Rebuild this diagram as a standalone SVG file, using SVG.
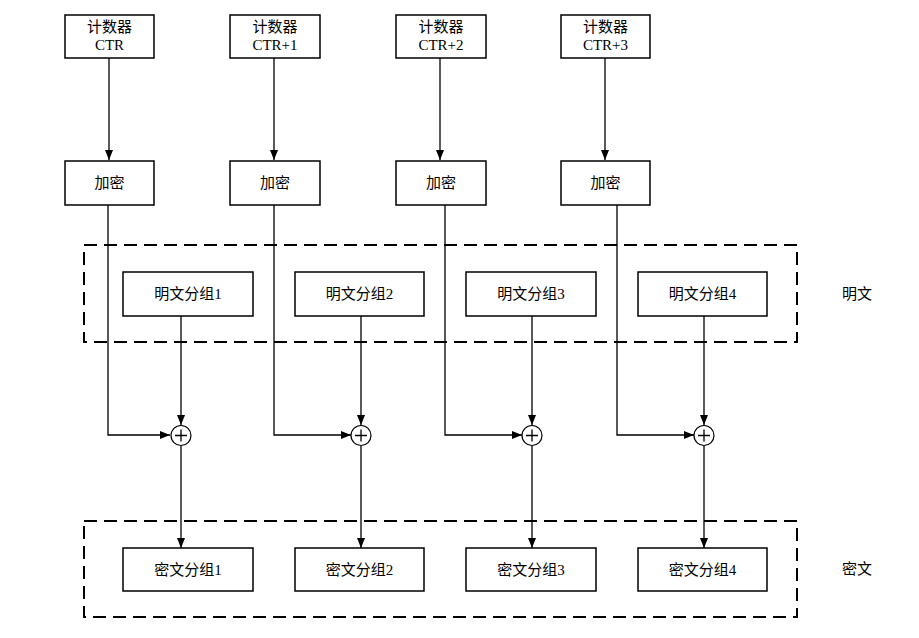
<svg xmlns="http://www.w3.org/2000/svg" width="919" height="638" viewBox="0 0 919 638">
<style>
.box{fill:#fff;stroke:#000;stroke-width:1.5}
.dash{fill:none;stroke:#000;stroke-width:2;stroke-dasharray:13 7}
.ln{fill:none;stroke:#000;stroke-width:1.3}
text{font-family:"Liberation Serif","Noto Sans CJK SC",serif;font-size:15px;fill:#000;text-anchor:middle;dominant-baseline:central}
.xor{fill:#fff;stroke:#000;stroke-width:1.2}
</style>
<defs>
<marker id="ah" markerWidth="10" markerHeight="8" refX="10" refY="4" orient="auto" markerUnits="userSpaceOnUse">
<path d="M0,0 L10,4 L0,8 Z" fill="#000"/>
</marker>
</defs>
<rect width="919" height="638" fill="#fff"/>
<g id="groups">
<rect class="dash" x="84" y="245" width="713" height="97"/>
<rect class="dash" x="84" y="521" width="713" height="96"/>
</g>
<g id="connectors">
<line class="ln" x1="109" y1="58" x2="109" y2="160" marker-end="url(#ah)"/>
<line class="ln" x1="274" y1="58" x2="274" y2="160" marker-end="url(#ah)"/>
<line class="ln" x1="440" y1="58" x2="440" y2="160" marker-end="url(#ah)"/>
<line class="ln" x1="605" y1="58" x2="605" y2="160" marker-end="url(#ah)"/>
<polyline class="ln" points="108,205 108,435 170,435" marker-end="url(#ah)"/>
<polyline class="ln" points="274,205 274,435 351,435" marker-end="url(#ah)"/>
<polyline class="ln" points="445,205 445,435 522,435" marker-end="url(#ah)"/>
<polyline class="ln" points="617,205 617,435 694,435" marker-end="url(#ah)"/>
<line class="ln" x1="181" y1="316" x2="181" y2="425" marker-end="url(#ah)"/>
<line class="ln" x1="361" y1="316" x2="361" y2="425" marker-end="url(#ah)"/>
<line class="ln" x1="532" y1="316" x2="532" y2="425" marker-end="url(#ah)"/>
<line class="ln" x1="704" y1="316" x2="704" y2="425" marker-end="url(#ah)"/>
<line class="ln" x1="181" y1="446" x2="181" y2="548" marker-end="url(#ah)"/>
<line class="ln" x1="361" y1="446" x2="361" y2="548" marker-end="url(#ah)"/>
<line class="ln" x1="532" y1="446" x2="532" y2="548" marker-end="url(#ah)"/>
<line class="ln" x1="704" y1="446" x2="704" y2="548" marker-end="url(#ah)"/>
</g>
<g id="ctr1"><rect class="box" x="65" y="15" width="89" height="43"/><text x="109.5" y="27">计数器</text><text x="109.5" y="45">CTR</text></g>
<g id="ctr2"><rect class="box" x="230" y="15" width="90" height="43"/><text x="275" y="27">计数器</text><text x="275" y="45">CTR+1</text></g>
<g id="ctr3"><rect class="box" x="396" y="15" width="90" height="43"/><text x="441" y="27">计数器</text><text x="441" y="45">CTR+2</text></g>
<g id="ctr4"><rect class="box" x="561" y="15" width="89" height="43"/><text x="605.5" y="27">计数器</text><text x="605.5" y="45">CTR+3</text></g>
<g id="enc1"><rect class="box" x="65" y="161" width="89" height="44"/><text x="109.5" y="183">加密</text></g>
<g id="enc2"><rect class="box" x="230" y="161" width="90" height="44"/><text x="275" y="183">加密</text></g>
<g id="enc3"><rect class="box" x="396" y="161" width="90" height="44"/><text x="441" y="183">加密</text></g>
<g id="enc4"><rect class="box" x="561" y="161" width="89" height="44"/><text x="605.5" y="183">加密</text></g>
<g id="p1"><rect class="box" x="123" y="272" width="130" height="44"/><text x="188" y="294">明文分组1</text></g>
<g id="p2"><rect class="box" x="295" y="272" width="129" height="44"/><text x="359.5" y="294">明文分组2</text></g>
<g id="p3"><rect class="box" x="466" y="272" width="130" height="44"/><text x="531" y="294">明文分组3</text></g>
<g id="p4"><rect class="box" x="638" y="272" width="129" height="44"/><text x="702.5" y="294">明文分组4</text></g>
<g id="x1"><circle class="xor" cx="181" cy="435.5" r="10"/><path class="ln" d="M175,435.5h12M181,429.5v12"/></g>
<g id="x2"><circle class="xor" cx="361" cy="435.5" r="10"/><path class="ln" d="M355,435.5h12M361,429.5v12"/></g>
<g id="x3"><circle class="xor" cx="532" cy="435.5" r="10"/><path class="ln" d="M526,435.5h12M532,429.5v12"/></g>
<g id="x4"><circle class="xor" cx="704" cy="435.5" r="10"/><path class="ln" d="M698,435.5h12M704,429.5v12"/></g>
<g id="c1"><rect class="box" x="123" y="548" width="130" height="43"/><text x="188" y="570">密文分组1</text></g>
<g id="c2"><rect class="box" x="295" y="548" width="129" height="43"/><text x="359.5" y="570">密文分组2</text></g>
<g id="c3"><rect class="box" x="466" y="548" width="130" height="43"/><text x="531" y="570">密文分组3</text></g>
<g id="c4"><rect class="box" x="638" y="548" width="129" height="43"/><text x="702.5" y="570">密文分组4</text></g>
<g id="lblP"><text x="857" y="294">明文</text></g>
<g id="lblC"><text x="857" y="569">密文</text></g>
</svg>
